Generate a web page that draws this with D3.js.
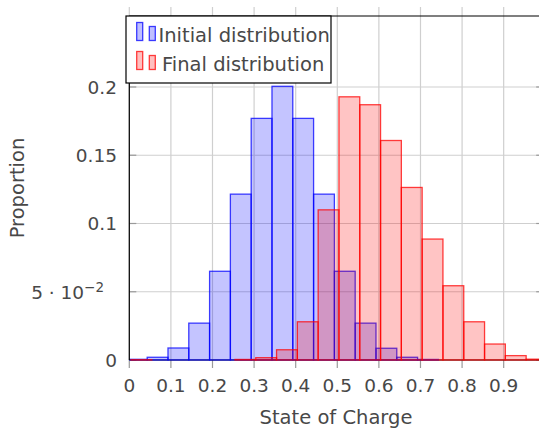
<!DOCTYPE html>
<html>
<head>
<meta charset="utf-8">
<script src="https://cdn.jsdelivr.net/npm/d3@7"></script>
<style>
	body { margin: 0; background: #fff; }
	text { font-family: 'DejaVu Sans', sans-serif; fill: #484848; }
</style>
</head>
<body>
<div id="chart"></div>
<script>
// histogram bins: 20 bins of width 0.05, each series has its own start
var binWidth = 0.05;
var initialStart = -0.007;
var finalStart = 0.004;
var initialValues = [0.0005, 0.002, 0.0088, 0.027, 0.065, 0.1215, 0.177, 0.2005, 0.177, 0.1215,
	0.065, 0.027, 0.0086, 0.002, 0.0004, 0, 0, 0, 0, 0];
var finalValues = [0.0002, 0, 0, 0, 0, 0.0004, 0.0017, 0.0075, 0.028, 0.110,
	0.1928, 0.187, 0.1608, 0.1264, 0.0886, 0.0544, 0.028, 0.0117, 0.0032, 0.0006];

var xTicks = [0, 0.1, 0.2, 0.3, 0.4, 0.5, 0.6, 0.7, 0.8, 0.9];
var yTicks = [0, 0.05, 0.1, 0.15, 0.2];
var yTickLabels = ['0', '5 \u00b7 10', '0.1', '0.15', '0.2'];
var labels = ['Initial distribution', 'Final distribution'];
var colors = ['#0000ff', '#ff0000'];

var width = 539, height = 430;
var plot = { left: 129.3, right: 543.2, top: 16, bottom: 360 };

var svg = d3.select('#chart').append('svg')
	.attr('width', width)
	.attr('height', height);

var x = d3.scaleLinear().domain([0, 0.995]).range([plot.left, plot.right]);
var y = d3.scaleLinear().domain([0, 0.252]).range([plot.bottom, plot.top]);

// grid
svg.append('g').selectAll('line')
	.data(xTicks)
	.enter().append('line')
	.attr('x1', function(d) { return x(d); })
	.attr('x2', function(d) { return x(d); })
	.attr('y1', plot.top - 9)
	.attr('y2', plot.bottom)
	.attr('stroke', '#cfcfcf')
	.attr('stroke-width', 1.2);

svg.append('g').selectAll('line')
	.data(yTicks)
	.enter().append('line')
	.attr('x1', plot.left)
	.attr('x2', plot.right)
	.attr('y1', function(d) { return y(d); })
	.attr('y2', function(d) { return y(d); })
	.attr('stroke', '#cfcfcf')
	.attr('stroke-width', 1.2);

// tick marks: y inside, x outside
var tickG = svg.append('g').attr('stroke', '#9a9a9a').attr('stroke-width', 1.2);
yTicks.forEach(function(d) {
	tickG.append('line').attr('x1', plot.left).attr('x2', plot.left + 7).attr('y1', y(d)).attr('y2', y(d));
	tickG.append('line').attr('x1', plot.right - 7).attr('x2', plot.right).attr('y1', y(d)).attr('y2', y(d));
});
xTicks.forEach(function(d) {
	tickG.append('line').attr('x1', x(d)).attr('x2', x(d)).attr('y1', plot.bottom).attr('y2', plot.bottom + 8);
});

// bars
svg.append('clipPath').attr('id', 'clip')
	.append('rect')
	.attr('x', plot.left).attr('y', plot.top)
	.attr('width', plot.right - plot.left).attr('height', plot.bottom - plot.top + 2);

function drawBars(values, start, color) {
	svg.append('g')
		.attr('clip-path', 'url(#clip)')
		.selectAll('rect')
		.data(values)
		.enter().append('rect')
		.attr('x', function(d, i) { return x(start + i * binWidth); })
		.attr('width', function(d, i) { return x(start + (i + 1) * binWidth) - x(start + i * binWidth); })
		.attr('y', function(d) { return y(d); })
		.attr('height', function(d) { return y(0) - y(d); })
		.attr('fill', color)
		.attr('fill-opacity', 0.23)
		.attr('stroke', color)
		.attr('stroke-opacity', 0.75)
		.attr('stroke-width', 1.3);
}

// axis lines
svg.append('line').attr('x1', plot.left).attr('x2', plot.right)
	.attr('y1', plot.bottom).attr('y2', plot.bottom).attr('stroke', '#000');

drawBars(initialValues, initialStart, colors[0]);
drawBars(finalValues, finalStart, colors[1]);

svg.append('line').attr('x1', plot.left).attr('x2', plot.left)
	.attr('y1', plot.top).attr('y2', plot.bottom).attr('stroke', '#000').attr('stroke-width', 1.2);
svg.append('line').attr('x1', plot.left).attr('x2', plot.right)
	.attr('y1', plot.top).attr('y2', plot.top).attr('stroke', '#000').attr('stroke-width', 1.2);

// tick labels
svg.append('g').selectAll('text')
	.data(xTicks)
	.enter().append('text')
	.attr('x', function(d) { return x(d); })
	.attr('y', 392)
	.attr('text-anchor', 'middle')
	.style('font-size', '18.5px')
	.text(function(d) { return d3.format('')(d); });

var yLabels = svg.append('g').selectAll('text')
	.data(yTicks)
	.enter().append('text')
	.attr('x', function(d, i) { return i === 1 ? 104 : 117; })
	.attr('y', function(d) { return y(d) + 7; })
	.attr('text-anchor', 'end')
	.style('font-size', '18.5px')
	.text(function(d, i) { return yTickLabels[i]; });

yLabels.filter(function(d, i) { return i === 1; })
	.append('tspan')
	.attr('dy', -7)
	.style('font-size', '13.5px')
	.text('\u22122');

// axis titles
svg.append('text')
	.attr('x', 336)
	.attr('y', 424)
	.attr('text-anchor', 'middle')
	.style('font-size', '19.5px')
	.text('State of Charge');

svg.append('text')
	.attr('transform', 'translate(24,188) rotate(-90)')
	.attr('text-anchor', 'middle')
	.style('font-size', '19.5px')
	.text('Proportion');

// legend
var legend = svg.append('g');
legend.append('rect')
	.attr('x', 126).attr('y', plot.top)
	.attr('width', 205).attr('height', 67)
	.attr('fill', '#fff')
	.attr('stroke', '#000')
	.attr('stroke-width', 1.2);

labels.forEach(function(label, i) {
	var base = 41.5 + i * 29;
	legend.append('rect')
		.attr('x', 136.7).attr('y', base - 19).attr('width', 6).attr('height', 18)
		.attr('fill', colors[i]).attr('fill-opacity', 0.25)
		.attr('stroke', colors[i]).attr('stroke-opacity', 0.75).attr('stroke-width', 1.3);
	legend.append('rect')
		.attr('x', 149.3).attr('y', base - 15).attr('width', 6).attr('height', 14)
		.attr('fill', colors[i]).attr('fill-opacity', 0.25)
		.attr('stroke', colors[i]).attr('stroke-opacity', 0.75).attr('stroke-width', 1.3);
	legend.append('text')
		.attr('x', 158.5 + i * 3.5)
		.attr('y', base)
		.style('font-size', '19.5px')
		.text(label);
});
</script>
</body>
</html>
